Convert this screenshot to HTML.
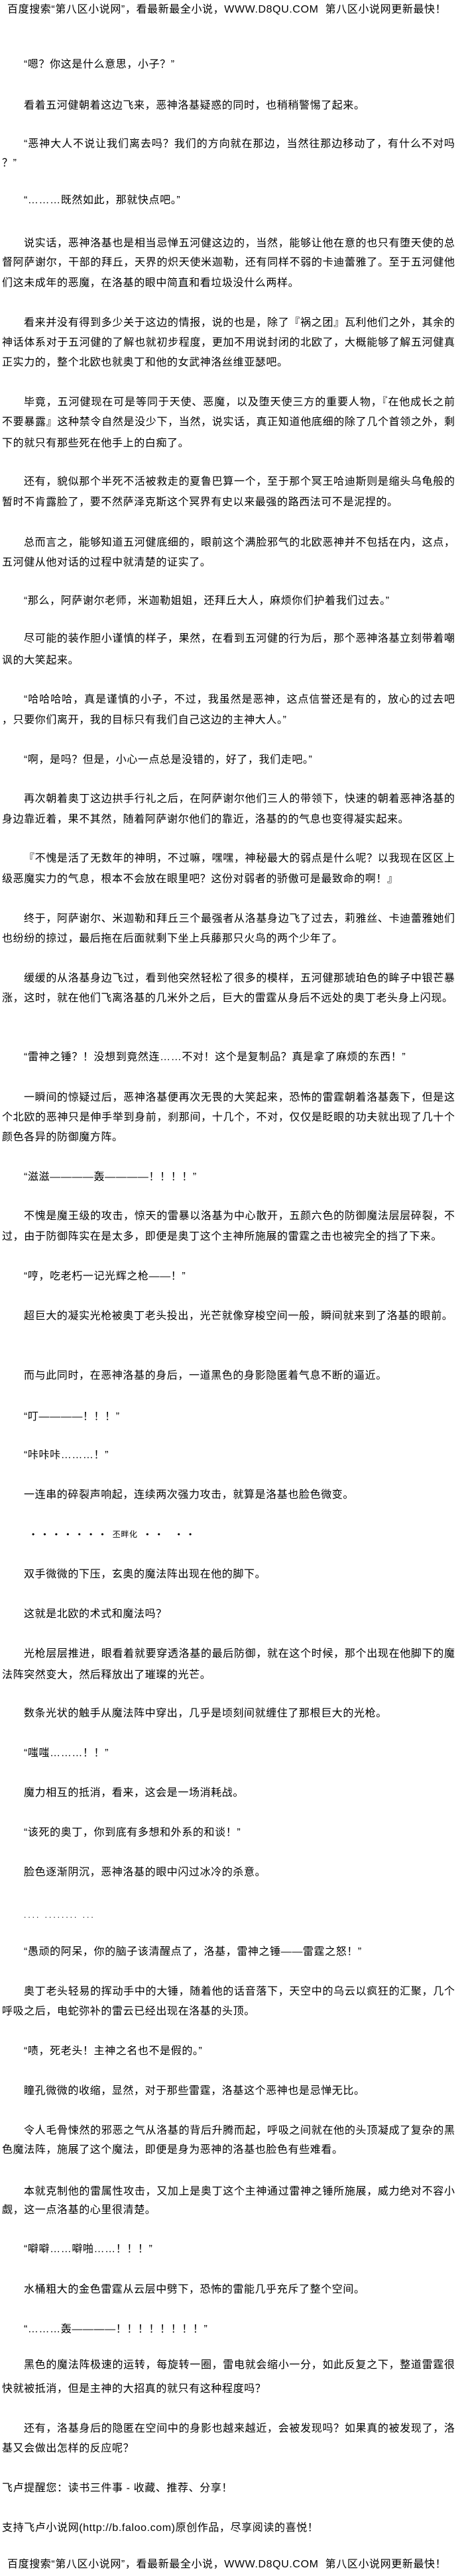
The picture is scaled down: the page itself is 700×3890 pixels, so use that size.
<!DOCTYPE html>
<html><head><meta charset="utf-8">
<style>
html,body{margin:0;padding:0;background:#fff;}
body{width:700px;height:3890px;position:relative;overflow:hidden;
font-family:"Liberation Sans","Noto Sans CJK SC",sans-serif;font-size:16px;color:#000;}
.d{position:absolute;white-space:nowrap;line-height:28px;height:28px;letter-spacing:0.6px;}
.p{left:36px;}
.l{left:3px;}
.fp{left:36px;width:650px;text-align:justify;text-align-last:justify;letter-spacing:0;}
.fl{left:3px;width:683px;text-align:justify;text-align-last:justify;letter-spacing:0;}
.h{left:11px;}
</style></head><body>
<div class="d h" style="top:1px">百度搜索“第八区小说网”，看最新最全小说，WWW.D8QU.COM&nbsp;&nbsp;第八区小说网更新最快！</div>

<div class="d p" style="top:84px">“嗯？你这是什么意思，小子？”</div>
<div class="d p" style="top:146px">看着五河健朝着这边飞来，恶神洛基疑惑的同时，也稍稍警惕了起来。</div>
<div class="d fp" style="top:204px">“恶神大人不说让我们离去吗？我们的方向就在那边，当然往那边移动了，有什么不对吗</div>
<div class="d l" style="top:233px">？”</div>
<div class="d p" style="top:289px">“………既然如此，那就快点吧。”</div>

<div class="d fp" style="top:354px">说实话，恶神洛基也是相当忌惮五河健这边的，当然，能够让他在意的也只有堕天使的总</div>
<div class="d fl" style="top:383px">督阿萨谢尔，干部的拜丘，天界的炽天使米迦勒，还有同样不弱的卡迪蕾雅了。至于五河健他</div>
<div class="d l" style="top:414px">们这未成年的恶魔，在洛基的眼中简直和看垃圾没什么两样。</div>

<div class="d fp" style="top:474px">看来并没有得到多少关于这边的情报，说的也是，除了『祸之团』瓦利他们之外，其余的</div>
<div class="d fl" style="top:504px">神话体系对于五河健的了解也就初步程度，更加不用说封闭的北欧了，大概能够了解五河健真</div>
<div class="d l" style="top:534px">正实力的，整个北欧也就奥丁和他的女武神洛丝维亚瑟吧。</div>

<div class="d fp" style="top:594px">毕竟，五河健现在可是等同于天使、恶魔，以及堕天使三方的重要人物，『在他成长之前</div>
<div class="d fl" style="top:624px">不要暴露』这种禁令自然是没少下，当然，说实话，真正知道他底细的除了几个首领之外，剩</div>
<div class="d l" style="top:656px">下的就只有那些死在他手上的白痴了。</div>

<div class="d fp" style="top:714px">还有，貌似那个半死不活被救走的夏鲁巴算一个，至于那个冥王哈迪斯则是缩头乌龟般的</div>
<div class="d l" style="top:745px">暂时不肯露脸了，要不然萨泽克斯这个冥界有史以来最强的路西法可不是泥捏的。</div>

<div class="d fp" style="top:806px">总而言之，能够知道五河健底细的，眼前这个满脸邪气的北欧恶神并不包括在内，这点，</div>
<div class="d l" style="top:836px">五河健从他对话的过程中就清楚的证实了。</div>

<div class="d p" style="top:894px">“那么，阿萨谢尔老师，米迦勒姐姐，还拜丘大人，麻烦你们护着我们过去。”</div>

<div class="d fp" style="top:951px">尽可能的装作胆小谨慎的样子，果然，在看到五河健的行为后，那个恶神洛基立刻带着嘲</div>
<div class="d l" style="top:984px">讽的大笑起来。</div>

<div class="d fp" style="top:1043px">“哈哈哈哈，真是谨慎的小子，不过，我虽然是恶神，这点信誉还是有的，放心的过去吧</div>
<div class="d l" style="top:1074px">，只要你们离开，我的目标只有我们自己这边的主神大人。”</div>

<div class="d p" style="top:1134px">“啊，是吗？但是，小心一点总是没错的，好了，我们走吧。”</div>

<div class="d fp" style="top:1193px">再次朝着奥丁这边拱手行礼之后，在阿萨谢尔他们三人的带领下，快速的朝着恶神洛基的</div>
<div class="d l" style="top:1224px">身边靠近着，果不其然，随着阿萨谢尔他们的靠近，洛基的的气息也变得凝实起来。</div>

<div class="d fp" style="top:1283px">『不愧是活了无数年的神明，不过嘛，嘿嘿，神秘最大的弱点是什么呢？以我现在区区上</div>
<div class="d l" style="top:1314px">级恶魔实力的气息，根本不会放在眼里吧？这份对弱者的骄傲可是最致命的啊！』</div>

<div class="d fp" style="top:1374px">终于，阿萨谢尔、米迦勒和拜丘三个最强者从洛基身边飞了过去，莉雅丝、卡迪蕾雅她们</div>
<div class="d l" style="top:1404px">也纷纷的掠过，最后拖在后面就剩下坐上兵藤那只火鸟的两个少年了。</div>

<div class="d fp" style="top:1464px">缓缓的从洛基身边飞过，看到他突然轻松了很多的模样，五河健那琥珀色的眸子中银芒暴</div>
<div class="d l" style="top:1494px">涨，这时，就在他们飞离洛基的几米外之后，巨大的雷霆从身后不远处的奥丁老头身上闪现。</div>

<div class="d p" style="top:1583px">“雷神之锤？！没想到竟然连……不对！这个是复制品？真是拿了麻烦的东西！”</div>

<div class="d fp" style="top:1644px">一瞬间的惊疑过后，恶神洛基便再次无畏的大笑起来，恐怖的雷霆朝着洛基轰下，但是这</div>
<div class="d fl" style="top:1674px">个北欧的恶神只是伸手举到身前，刹那间，十几个，不对，仅仅是眨眼的功夫就出现了几十个</div>
<div class="d l" style="top:1704px">颜色各异的防御魔方阵。</div>

<div class="d p" style="top:1764px">“滋滋————轰————！！！！”</div>

<div class="d fp" style="top:1823px">不愧是魔王级的攻击，惊天的雷暴以洛基为中心散开，五颜六色的防御魔法层层碎裂，不</div>
<div class="d l" style="top:1854px">过，由于防御阵实在是太多，即便是奥丁这个主神所施展的雷霆之击也被完全的挡了下来。</div>

<div class="d p" style="top:1914px">“哼，吃老朽一记光辉之枪——！”</div>

<div class="d p" style="top:1974px">超巨大的凝实光枪被奥丁老头投出，光芒就像穿梭空间一般，瞬间就来到了洛基的眼前。</div>

<div class="d p" style="top:2064px">而与此同时，在恶神洛基的身后，一道黑色的身影隐匿着气息不断的逼近。</div>
<div class="d p" style="top:2126px">“叮————！！！”</div>
<div class="d p" style="top:2184px">“咔咔咔………！”</div>
<div class="d p" style="top:2244px">一连串的碎裂声响起，连续两次强力攻击，就算是洛基也脸色微变。</div>

<div class="d" style="left:48px;top:2303px;font-size:12px;">•　•　•　•　•　•　•　丕畔化　•　•　　•　•</div>

<div class="d p" style="top:2364px">双手微微的下压，玄奥的魔法阵出现在他的脚下。</div>
<div class="d p" style="top:2424px">这就是北欧的术式和魔法吗？</div>
<div class="d fp" style="top:2484px">光枪层层推进，眼看着就要穿透洛基的最后防御，就在这个时候，那个出现在他脚下的魔</div>
<div class="d l" style="top:2516px">法阵突然变大，然后释放出了璀璨的光芒。</div>
<div class="d p" style="top:2574px">数条光状的触手从魔法阵中穿出，几乎是顷刻间就缠住了那根巨大的光枪。</div>

<div class="d p" style="top:2634px">“嗤嗤………！！”</div>
<div class="d p" style="top:2694px">魔力相互的抵消，看来，这会是一场消耗战。</div>
<div class="d p" style="top:2754px">“该死的奥丁，你到底有多想和外系的和谈！”</div>
<div class="d p" style="top:2814px">脸色逐渐阴沉，恶神洛基的眼中闪过冰冷的杀意。</div>
<div class="d p" style="top:2878px;letter-spacing:3px;font-size:12px;">....&nbsp;........&nbsp;...</div>

<div class="d p" style="top:2934px">“愚顽的阿呆，你的脑子该清醒点了，洛基，雷神之锤——雷霆之怒！”</div>
<div class="d fp" style="top:2994px">奥丁老头轻易的挥动手中的大锤，随着他的话音落下，天空中的乌云以疯狂的汇聚，几个</div>
<div class="d l" style="top:3024px">呼吸之后，电蛇弥补的雷云已经出现在洛基的头顶。</div>
<div class="d p" style="top:3084px">“啧，死老头！主神之名也不是假的。”</div>
<div class="d p" style="top:3144px">瞳孔微微的收缩，显然，对于那些雷霆，洛基这个恶神也是忌惮无比。</div>
<div class="d fp" style="top:3204px">令人毛骨悚然的邪恶之气从洛基的背后升腾而起，呼吸之间就在他的头顶凝成了复杂的黑</div>
<div class="d l" style="top:3233px">色魔法阵，施展了这个魔法，即便是身为恶神的洛基也脸色有些难看。</div>

<div class="d fp" style="top:3296px">本就克制他的雷属性攻击，又加上是奥丁这个主神通过雷神之锤所施展，威力绝对不容小</div>
<div class="d l" style="top:3324px">觑，这一点洛基的心里很清楚。</div>
<div class="d p" style="top:3383px">“噼噼……噼啪……！！！”</div>
<div class="d p" style="top:3444px">水桶粗大的金色雷霆从云层中劈下，恐怖的雷能几乎充斥了整个空间。</div>
<div class="d p" style="top:3504px">“………轰————！！！！！！！！”</div>
<div class="d fp" style="top:3558px">黑色的魔法阵极速的运转，每旋转一圈，雷电就会缩小一分，如此反复之下，整道雷霆很</div>
<div class="d l" style="top:3594px">快就被抵消，但是主神的大招真的就只有这种程度吗？</div>
<div class="d fp" style="top:3654px">还有，洛基身后的隐匿在空间中的身影也越来越近，会被发现吗？如果真的被发现了，洛</div>
<div class="d l" style="top:3684px">基又会做出怎样的反应呢？</div>

<div class="d l" style="top:3744px">飞卢提醒您：读书三件事 - 收藏、推荐、分享！</div>
<div class="d l" style="top:3804px">支持飞卢小说网(http://b.faloo.com)原创作品，尽享阅读的喜悦！</div>
<div class="d h" style="top:3859px">百度搜索“第八区小说网”，看最新最全小说，WWW.D8QU.COM&nbsp;&nbsp;第八区小说网更新最快！</div>
</body></html>
